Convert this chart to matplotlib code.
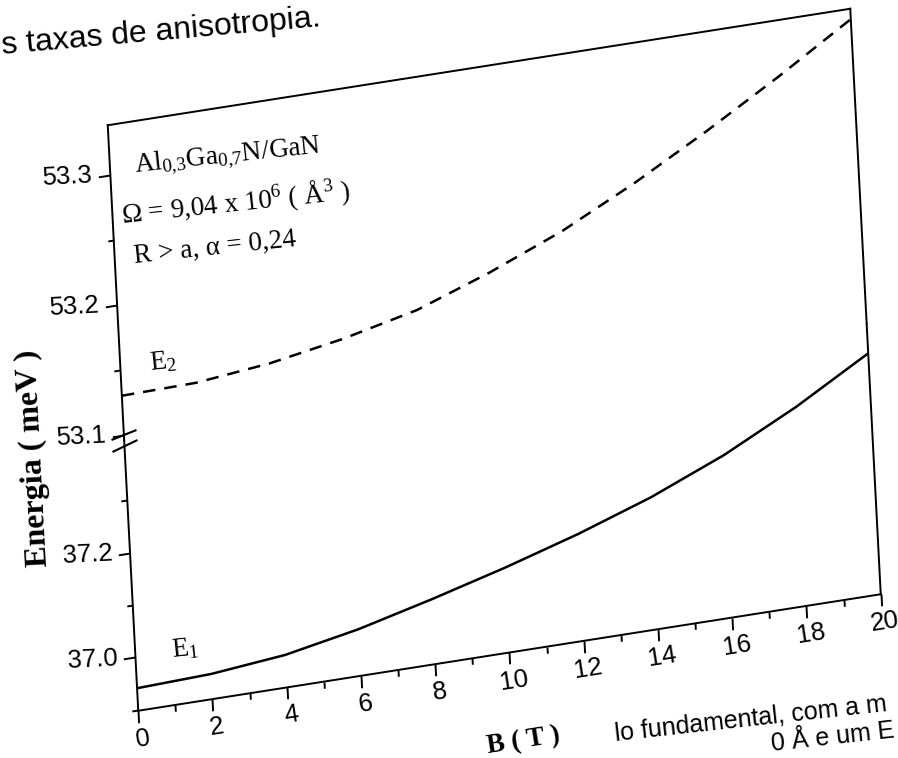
import numpy as np
import matplotlib
matplotlib.use("Agg")
import matplotlib.pyplot as plt
from matplotlib.transforms import Affine2D
from matplotlib.path import Path
import mpl_toolkits.axisartist.floating_axes as floating_axes
from mpl_toolkits.axisartist.grid_finder import FixedLocator, DictFormatter

plt.rcParams.update({
    "mathtext.fontset": "custom",
    "mathtext.rm": "Liberation Serif",
    "mathtext.it": "Liberation Serif:italic",
    "mathtext.bf": "Liberation Serif:bold",
    "font.family": ["Liberation Sans", "DejaVu Sans"],
    "lines.scale_dashes": False,
})

# ---------------- data ----------------
b_range = (0, 20)
b_major = [0, 2, 4, 6, 8, 10, 12, 14, 16, 18, 20]
b_major_labels = ["0", "2", "4", "6", "8", "10", "12", "14", "16", "18", "20"]
b_minor = [1, 3, 5, 7, 9, 11, 13, 15, 17, 19]

lower_range = (36.898, 37.415)
lower_major = [37.0, 37.2]
lower_major_labels = ["37.0", "37.2"]
lower_minor = [36.9, 37.1, 37.3]

upper_range = (53.096, 53.338)
upper_major = [53.1, 53.2, 53.3]
upper_major_labels = ["53.1", "53.2", "53.3"]
upper_minor = [53.15, 53.25]

b_e1 = [0, 2, 4, 6, 8, 10, 12, 14, 16, 18, 20]
e1 = [36.941, 36.946, 36.960, 36.987, 37.022, 37.060, 37.102, 37.150,
      37.208, 37.278, 37.358]
b_e2 = [0, 2, 4, 6, 8, 10, 12, 14, 16, 18, 20]
e2 = [53.130, 53.131, 53.137, 53.147, 53.160, 53.180, 53.203, 53.231,
      53.262, 53.295, 53.330]

# ---------------- figure / scanned-frame geometry ----------------
W, H = 898, 758
fig = plt.figure(figsize=(W / 100, H / 100), dpi=100)

O = np.array([138.25, H - 710.75])      # frame origin (display px)
XV = np.array([742.5, 116.5])           # direction of B axis (whole range)
YV = np.array([-30.5, 585.5])           # direction of energy axis (whole height)
SPLIT = 0.4625                          # fraction of height for lower segment


def seg_transform(lo, hi, f0, f1):
    k = (f1 - f0) / (hi - lo)
    sx = 1.0 / (b_range[1] - b_range[0])
    m = np.array([
        [XV[0] * sx, YV[0] * k, O[0] + (f0 - lo * k) * YV[0] - b_range[0] * sx * XV[0]],
        [XV[1] * sx, YV[1] * k, O[1] + (f0 - lo * k) * YV[1] - b_range[0] * sx * XV[1]],
        [0, 0, 1]])
    return Affine2D(m)


def make_axes(tr, yr, xlocs, xlabels, ylocs, ylabels):
    ext = (b_range[0], b_range[1], yr[0], yr[1])
    corners = tr.transform([[ext[0], ext[2]], [ext[1], ext[2]],
                            [ext[1], ext[3]], [ext[0], ext[3]]])
    x0, y0 = corners.min(0)
    x1, y1 = corners.max(0)
    cx, cy = (x0 + x1) / 2, (y0 + y1) / 2
    w, h = (x1 - x0) * 1.02, (y1 - y0) * 1.02
    rect = [(cx - w / 2) / W, (cy - h / 2) / H, w / W, h / H]
    gh = floating_axes.GridHelperCurveLinear(
        tr, extremes=ext,
        grid_locator1=FixedLocator(xlocs), grid_locator2=FixedLocator(ylocs),
        tick_formatter1=DictFormatter(dict(zip(xlocs, xlabels))),
        tick_formatter2=DictFormatter(dict(zip(ylocs, ylabels))))
    ax = fig.add_axes(rect, axes_class=floating_axes.FloatingAxes, grid_helper=gh)
    return ax


def style(art, size, lw=1.4):
    art.major_ticks.set_tick_out(True)
    art.major_ticks.set_ticksize(size)
    art.major_ticks.set_markeredgewidth(lw)
    art.major_ticklabels.set_fontsize(18.5)
    art.major_ticklabels.set_fontfamily("Liberation Sans")
    art.major_ticklabels.set_pad(4)
    art.line.set_linewidth(lw)


tr_lo = seg_transform(lower_range[0], lower_range[1], 0.0, SPLIT)
tr_up = seg_transform(upper_range[0], upper_range[1], SPLIT, 1.0)

# main axes (major ticks)
ax_lo = make_axes(tr_lo, lower_range, b_major, b_major_labels,
                  lower_major, lower_major_labels)
ax_up = make_axes(tr_up, upper_range, b_major, [""] * len(b_major),
                  upper_major, upper_major_labels)

for ax in (ax_lo, ax_up):
    for side in ("left", "right", "bottom", "top"):
        style(ax.axis[side], 8.5)
    for side in ("right", "top"):
        ax.axis[side].major_ticks.set_visible(False)
        ax.axis[side].major_ticklabels.set_visible(False)
ax_lo.axis["top"].set_visible(False)
ax_up.axis["bottom"].set_visible(False)

xlab = ax_lo.axis["bottom"].label
xlab.set_text("B ( T )")
xlab.set_visible(True)
xlab.set_fontsize(19.5)
xlab.set_fontweight("bold")
xlab.set_fontfamily("Liberation Serif")
xlab.set_pad(30)

# minor tick overlays
for tr, yr, ylocs in ((tr_lo, lower_range, lower_minor), (tr_up, upper_range, upper_minor)):
    axm = make_axes(tr, yr, b_minor, [""] * len(b_minor), ylocs, [""] * len(ylocs))
    axm.patch.set_visible(False)
    for side in ("left", "right", "bottom", "top"):
        art = axm.axis[side]
        art.major_ticklabels.set_visible(False)
        style(art, 4.5)
        art.line.set_visible(False)
        if side in ("right", "top"):
            art.major_ticks.set_visible(False)
    if yr is upper_range:
        axm.axis["bottom"].major_ticks.set_visible(False)

# curves
aux_lo = ax_lo.get_aux_axes(tr_lo)
aux_lo.patch = ax_lo.patch
ax_lo.patch.zorder = 0.9
aux_up = ax_up.get_aux_axes(tr_up)
aux_up.patch = ax_up.patch
ax_up.patch.zorder = 0.9

aux_lo.plot(b_e1, e1, color="black", lw=1.8, solid_joinstyle="round")
aux_up.plot(b_e2, e2, color="black", lw=1.8, ls=(0, (9, 6.5)))

# axis break marks
brk = Path([(-13, 0.5), (12, 10.5), (-12, -11.5), (13, 0.5)],
           [Path.MOVETO, Path.LINETO, Path.MOVETO, Path.LINETO])
aux_up.plot([b_range[0]], [upper_range[0]], marker=brk, markersize=18.7,
            markerfacecolor="none", markeredgecolor="black",
            markeredgewidth=1.5, ls="none", clip_on=False)

# annotations
serif = "Liberation Serif"
kw = dict(family=serif, fontsize=19.5, rotation=6, rotation_mode="anchor",
          ha="left", va="baseline", clip_on=False)
aux_up.text(0.663, 53.299, r"Al$_{0{,}3}$Ga$_{0{,}7}$N/GaN", **kw)
aux_up.text(0.245, 53.2617, r"Ω = 9,04 x 10$^{6}$ ( Å$^{3}$ )", **kw)
aux_up.text(0.536, 53.2297, "R > a, α = 0,24", **kw)
aux_up.text(0.788, 53.1462, r"E$_{2}$", **kw)
aux_lo.text(0.976, 36.990, r"E$_{1}$", **kw)

# y label
fig.text(34 / W, 1 - 458 / H, "Energia ( meV )", family=serif, fontweight="bold",
         fontsize=23, rotation=93, rotation_mode="anchor", ha="center", va="center")

# surrounding page text of the scan
fig.text(2 / W, 1 - 54 / H, "s taxas de anisotropia.", family="Liberation Sans",
         fontsize=23, rotation=5, rotation_mode="anchor", ha="left", va="baseline")
fig.text(616 / W, 1 - 741 / H, "lo fundamental, com a m", family="Liberation Sans",
         fontsize=18, rotation=6.3, rotation_mode="anchor", ha="left", va="baseline")
fig.text(772 / W, 1 - 751 / H, "0 Å e um E", family="Liberation Sans",
         fontsize=18, rotation=6.3, rotation_mode="anchor", ha="left", va="baseline")

fig.savefig("out.png", dpi=100, facecolor="white")
